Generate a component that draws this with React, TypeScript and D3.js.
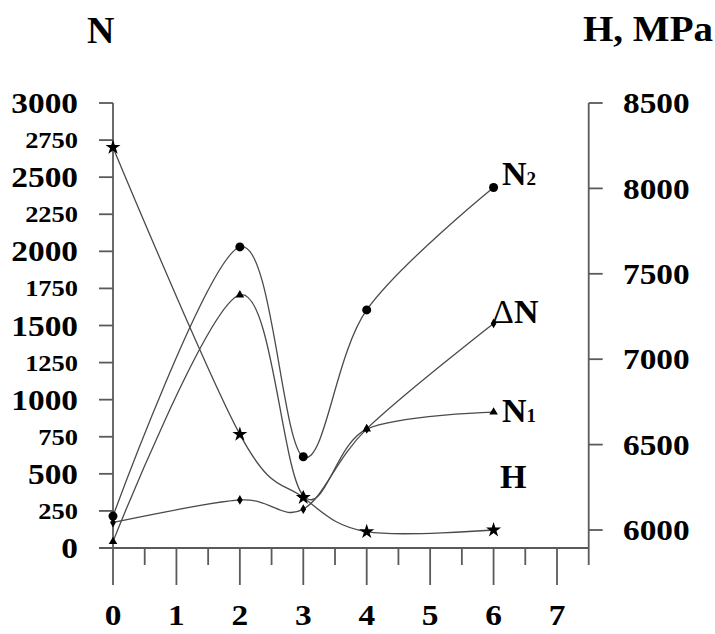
import React from "react";
import * as d3 from "d3";

const xValues = [0, 2, 3, 4, 6];
const n2Values = [215, 2030, 615, 1605, 2430];
const n1Values = [43, 1706, 353, 802, 916];
const dNValues = [172, 324, 262, 803, 1514];
const hValues = [8240, 6560, 6190, 5990, 6000];
const leftTicks = [0, 250, 500, 750, 1000, 1250, 1500, 1750, 2000, 2250, 2500, 2750, 3000];
const rightTicks = [6000, 6500, 7000, 7500, 8000, 8500];
const xTicks = [0, 1, 2, 3, 4, 5, 6, 7];
const xMinorTicks = [0.5, 1.5, 2.5, 3.5, 4.5, 5.5, 6.5, 7.5];

const W = 715;
const H = 634;
const FONT = "Liberation Serif, Times New Roman, serif";

export default function App() {
  const x = d3.scaleLinear().domain([0, 7]).range([113, 557]);
  const yL = d3.scaleLinear().domain([0, 3000]).range([548, 103]);
  const yR = d3.scaleLinear().domain([6000, 8500]).range([530, 103]);

  const axisColor = "#5a5a5a";
  const lineColor = "#4a4a4a";

  const lineL = d3
    .line<[number, number]>()
    .x((d) => x(d[0]))
    .y((d) => yL(d[1]))
    .curve(d3.curveCardinal.tension(0));
  const lineR = d3
    .line<[number, number]>()
    .x((d) => x(d[0]))
    .y((d) => yR(d[1]))
    .curve(d3.curveCardinal.tension(0));

  const pairs = (vals: number[]) => xValues.map((v, i) => [v, vals[i]] as [number, number]);

  const star = d3.symbol(d3.symbolStar, 70)() as string;
  const tri = d3.symbol(d3.symbolTriangle, 32)() as string;
  const diamond = d3.symbol(d3.symbolDiamond, 28)() as string;

  const xLeftAxis = x(0);
  const xRightAxis = x(7.5);
  const yBottom = yL(0);

  const textStyle = { fontFamily: FONT, fontWeight: 700 as const };

  return (
    <svg
      width={W}
      height={H}
      style={{ position: "absolute", left: 0, top: 0, background: "#fff", fontFamily: FONT }}
    >
      <rect x={0} y={0} width={W} height={H} fill="#fff" />
      {/* titles */}
      <text x={87} y={43} fontSize={38} style={textStyle} fill="#000">N</text>
      <text x={583} y={41} fontSize={35} style={textStyle} fill="#000" textLength={130} lengthAdjust="spacingAndGlyphs">H, MPa</text>

      {/* left axis */}
      <line x1={xLeftAxis} x2={xLeftAxis} y1={yL(3000)} y2={yBottom} stroke={axisColor} strokeWidth={1.8} />
      {leftTicks.map((t) => (
        <g key={"l" + t}>
          <line x1={xLeftAxis - 14} x2={xLeftAxis} y1={yL(t)} y2={yL(t)} stroke={axisColor} strokeWidth={1.8} />
          <text
            transform={`translate(78,${yL(t)}) scale(1.15,1)`}
            dy="0.35em"
            textAnchor="end"
            fontSize={t % 500 === 0 ? 29 : 23}
            style={textStyle}
            fill="#000"
          >
            {t}
          </text>
        </g>
      ))}

      {/* right axis */}
      <line x1={xRightAxis} x2={xRightAxis} y1={yR(8500)} y2={yBottom} stroke={axisColor} strokeWidth={1.8} />
      {rightTicks.map((t) => (
        <g key={"r" + t}>
          <line x1={xRightAxis} x2={xRightAxis + 14} y1={yR(t)} y2={yR(t)} stroke={axisColor} strokeWidth={1.8} />
          <text
            transform={`translate(623,${yR(t)}) scale(1.15,1)`}
            dy="0.35em"
            textAnchor="start"
            fontSize={29}
            style={textStyle}
            fill="#000"
          >
            {t}
          </text>
        </g>
      ))}

      {/* x axis */}
      <line x1={xLeftAxis - 14} x2={xRightAxis} y1={yBottom} y2={yBottom} stroke={axisColor} strokeWidth={1.8} />
      {xTicks.map((t) => (
        <g key={"x" + t}>
          <line x1={x(t)} x2={x(t)} y1={yBottom} y2={yBottom + 37} stroke={axisColor} strokeWidth={1.8} />
          <text
            transform={`translate(${x(t)},625) scale(1.15,1)`}
            textAnchor="middle"
            fontSize={29}
            style={textStyle}
            fill="#000"
          >
            {t}
          </text>
        </g>
      ))}
      {xMinorTicks.map((t) => (
        <line key={"m" + t} x1={x(t)} x2={x(t)} y1={yBottom} y2={yBottom + 17} stroke={axisColor} strokeWidth={1.8} />
      ))}

      {/* curves */}
      <path d={lineR(pairs(hValues)) || ""} fill="none" stroke={lineColor} strokeWidth={1.3} />
      <path d={lineL(pairs(n2Values)) || ""} fill="none" stroke={lineColor} strokeWidth={1.3} />
      <path d={lineL(pairs(n1Values)) || ""} fill="none" stroke={lineColor} strokeWidth={1.3} />
      <path d={lineL(pairs(dNValues)) || ""} fill="none" stroke={lineColor} strokeWidth={1.3} />

      {/* markers */}
      {xValues.map((v, i) => (
        <g key={"mk" + i}>
          <path d={tri} transform={`translate(${x(v)},${yL(n1Values[i])})`} fill="#000" />
          <path d={diamond} transform={`translate(${x(v)},${yL(dNValues[i])})`} fill="#000" />
          <circle cx={x(v)} cy={yL(n2Values[i])} r={4.5} fill="#000" />
          <path d={star} transform={`translate(${x(v)},${yR(hValues[i])})`} fill="#000" />
        </g>
      ))}

      {/* series labels */}
      <text x={502} y={185} fontSize={34} style={textStyle} fill="#000">
        N<tspan fontSize={19}>2</tspan>
      </text>
      <text x={492} y={323} fontSize={34} style={textStyle} fill="#000">
        <tspan style={{ fontWeight: 400 }}>Δ</tspan>N
      </text>
      <text x={502} y={422} fontSize={34} style={textStyle} fill="#000">
        N<tspan fontSize={19}>1</tspan>
      </text>
      <text x={500} y={488} fontSize={34} style={textStyle} fill="#000">H</text>
    </svg>
  );
}
